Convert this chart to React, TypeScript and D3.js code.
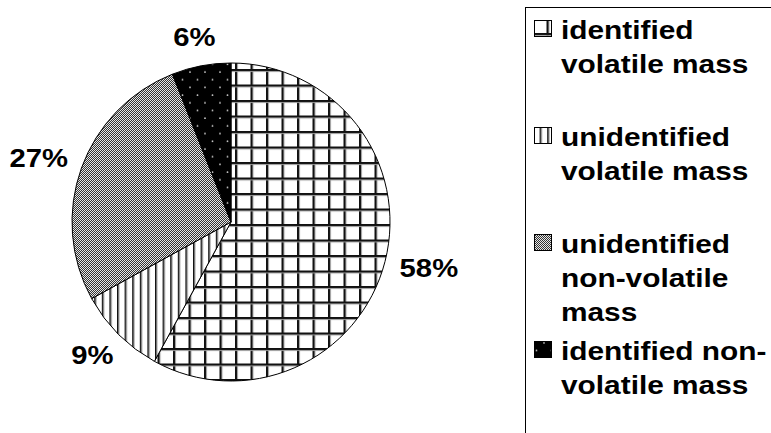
import React, { useEffect, useRef } from 'react';
import * as d3 from 'd3';

// slice data, clockwise from 12 o'clock
const categories = [
  'identified volatile mass',
  'unidentified volatile mass',
  'unidentified non-volatile mass',
  'identified non-volatile mass',
];
const shares = [58, 9, 27, 6];
const patternIds = ['grid', 'vlines', 'checker', 'dots'];
// legend text as wrapped in the original
const legendLines = [
  ['identified', 'volatile mass'],
  ['unidentified', 'volatile mass'],
  ['unidentified', 'non-volatile', 'mass'],
  ['identified non-', 'volatile mass'],
];

const W = 771;
const H = 433;
const FONT = '"Liberation Sans", Arial, sans-serif';
const STRETCH = 1.17;

const App: React.FC = () => {
  const svgRef = useRef<SVGSVGElement>(null);

  useEffect(() => {
    if (!svgRef.current) return;
    const svg = d3.select(svgRef.current);
    svg.selectAll('*').remove();

    const defs = svg.append('defs');

    // grid (identified volatile)
    const grid = defs.append('pattern').attr('id', 'grid')
      .attr('patternUnits', 'userSpaceOnUse').attr('width', 15.5).attr('height', 15.5)
      .attr('x', 4).attr('y', 2);
    grid.append('rect').attr('width', 15.5).attr('height', 15.5).attr('fill', '#fff');
    grid.append('rect').attr('x', 0).attr('width', 2).attr('height', 15.5).attr('fill', '#111');
    grid.append('rect').attr('x', 2).attr('width', 1).attr('height', 15.5).attr('fill', '#999');
    grid.append('rect').attr('y', 0).attr('height', 2).attr('width', 15.5).attr('fill', '#111');
    grid.append('rect').attr('y', 2).attr('height', 1).attr('width', 15.5).attr('fill', '#999');

    // vertical lines (unidentified volatile)
    const vl = defs.append('pattern').attr('id', 'vlines')
      .attr('patternUnits', 'userSpaceOnUse').attr('width', 7.6).attr('height', 10);
    vl.append('rect').attr('width', 7.6).attr('height', 10).attr('fill', '#fff');
    vl.append('rect').attr('x', 0).attr('width', 1.6).attr('height', 10).attr('fill', '#111');
    vl.append('rect').attr('x', 1.6).attr('width', 0.8).attr('height', 10).attr('fill', '#999');

    // fine checker (unidentified non-volatile)
    const ch = defs.append('pattern').attr('id', 'checker')
      .attr('patternUnits', 'userSpaceOnUse').attr('width', 2).attr('height', 2);
    ch.append('rect').attr('width', 2).attr('height', 2).attr('fill', '#e6e6e6');
    ch.append('rect').attr('width', 1).attr('height', 1).attr('fill', '#333');
    ch.append('rect').attr('x', 1).attr('y', 1).attr('width', 1).attr('height', 1).attr('fill', '#333');

    // black with dots (identified non-volatile)
    const dt = defs.append('pattern').attr('id', 'dots')
      .attr('patternUnits', 'userSpaceOnUse').attr('width', 15).attr('height', 15.4);
    dt.append('rect').attr('width', 15).attr('height', 15.4).attr('fill', '#000');
    dt.append('circle').attr('cx', 4).attr('cy', 4).attr('r', 0.9).attr('fill', '#ccc');
    dt.append('circle').attr('cx', 11.5).attr('cy', 11.7).attr('r', 0.9).attr('fill', '#ccc');

    // Pie
    const cx = 231;
    const cy = 222;
    const r = 159;

    const pie = d3.pie<number>().sort(null).value(d => d);
    const arcs = pie(shares);
    const arc = d3.arc<d3.PieArcDatum<number>>().innerRadius(0).outerRadius(r);

    const g = svg.append('g').attr('transform', `translate(${cx},${cy})`);

    g.selectAll('path.slice')
      .data(arcs)
      .enter()
      .append('path')
      .attr('class', 'slice')
      .attr('d', arc)
      .attr('fill', (_, i) => `url(#${patternIds[i]})`)
      .attr('stroke', '#000')
      .attr('stroke-width', 1);

    // Percent labels outside the pie
    const labelR = 175;
    arcs.forEach((a, i) => {
      const mid = (a.startAngle + a.endAngle) / 2;
      const s = Math.sin(mid);
      const c = Math.cos(mid);
      const t = g.append('text')
        .attr('font-family', FONT)
        .attr('font-weight', 'bold')
        .attr('font-size', 25)
        .attr('text-anchor', 'middle')
        .attr('dominant-baseline', 'central')
        .attr('fill', '#000')
        .text(`${shares[i]}%`);
      const bb = (t.node() as SVGTextElement).getBBox();
      const w = bb.width * STRETCH;
      const h = 26;
      const px = labelR * s + (w / 2) * s;
      const py = -labelR * c - (h / 2) * c;
      t.attr('transform', `translate(${px},${py}) scale(${STRETCH},1)`);
    });

    // Legend
    svg.append('rect')
      .attr('x', 525.5).attr('y', 7.5)
      .attr('width', 300).attr('height', 440)
      .attr('fill', '#fff').attr('stroke', '#000').attr('stroke-width', 1);

    const legend = svg.append('g');
    categories.forEach((_, i) => {
      const base = 39 + i * 107;
      legend.append('rect')
        .attr('x', 534.5).attr('y', base - 18.5)
        .attr('width', 17).attr('height', 16)
        .attr('fill', `url(#${patternIds[i]})`)
        .attr('stroke', '#000').attr('stroke-width', 1);
      legendLines[i].forEach((line, j) => {
        legend.append('text')
          .attr('transform', `translate(561,${base + j * 34}) scale(${STRETCH},1)`)
          .attr('font-family', FONT)
          .attr('font-weight', 'bold')
          .attr('font-size', 25.5)
          .attr('fill', '#000')
          .text(line);
      });
    });
  }, []);

  return (
    <svg
      ref={svgRef}
      width={W}
      height={H}
      style={{ position: 'absolute', left: 0, top: 0, background: '#fff', display: 'block' }}
    />
  );
};

export default App;
